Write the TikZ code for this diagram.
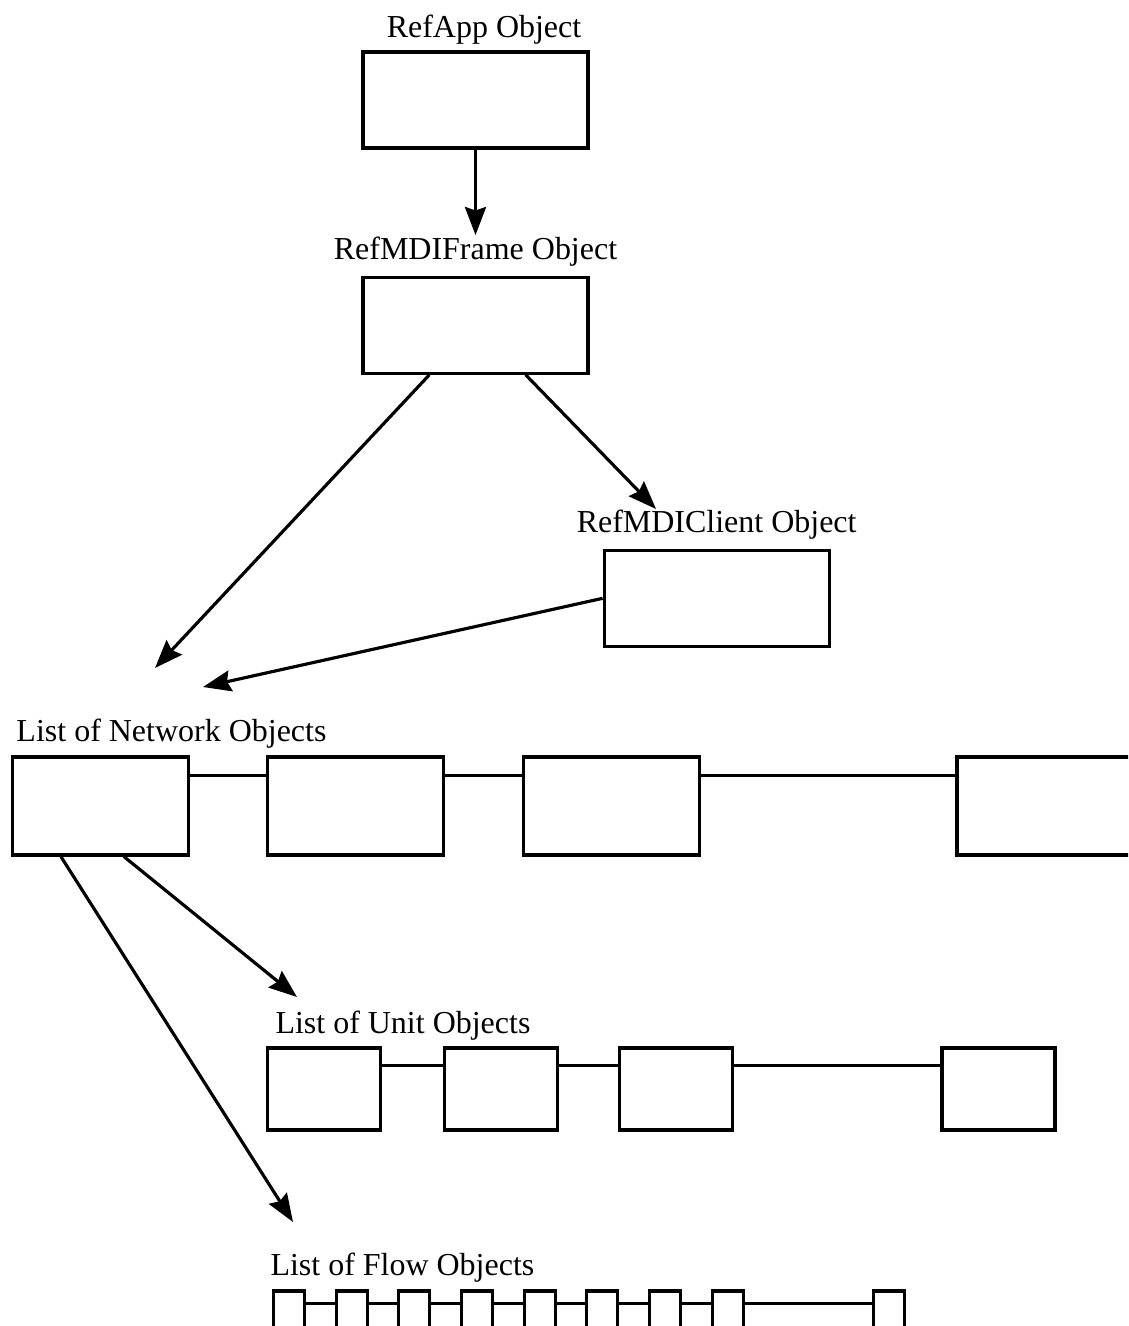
\documentclass[tikz,border=0pt]{standalone}
\usepackage{fontspec}
\setmainfont{Liberation Serif}
\usetikzlibrary{positioning,arrows.meta}
\begin{document}
\begin{tikzpicture}[
    line width=1.8pt,
    node distance=2cm,
    objbox/.style={rectangle,draw,minimum width=4.5cm,minimum height=1.92cm,inner sep=0pt},
    netbox/.style={rectangle,draw,minimum width=3.52cm,minimum height=1.96cm,inner sep=0pt},
    unitbox/.style={rectangle,draw,minimum width=2.26cm,minimum height=1.64cm,inner sep=0pt},
    flowbox/.style={rectangle,draw,minimum width=0.62cm,minimum height=0.8cm,inner sep=0pt},
    title/.style={inner sep=0pt,font=\fontsize{18.2pt}{22pt}\selectfont},
    link/.style={line width=1.5pt},
    arrow/.style={-{Stealth[length=16pt,width=12pt,inset=2pt]}}
]
    \useasboundingbox (0,0) rectangle (22.56,-26.52);
    \clip (0,0) rectangle (22.56,-26.52);

    % Application objects
    \node[objbox] (app) at (9.51,-2.0) {};
    \node[objbox] (frame) [below=2.52cm of app] {};
    \node[objbox] (client) [below right=3.48cm and 0.26cm of frame.south east] {};
    \node[title] (apptxt) [above=0.1cm of app, xshift=0.17cm] {RefApp Object};
    \node[title] (frametxt) [above=0.16cm of frame] {RefMDIFrame Object};
    \node[title] (clienttxt) [above=0.16cm of client] {RefMDIClient Object};

    % List of network objects
    \node[netbox] (net1) at (2.01,-16.12) {};
    \node[netbox] (net2) [right=1.52cm of net1] {};
    \node[netbox] (net3) [right=1.54cm of net2] {};
    \node[netbox] (net4) [right=5.08cm of net3] {};
    \node[title] (nettxt) [above right=0.12cm and 0.08cm of net1.north west] {List of Network Objects};

    % List of unit objects
    \node[unitbox] (unit1) at (6.48,-21.78) {};
    \node[unitbox] (unit2) [right=1.22cm of unit1] {};
    \node[unitbox] (unit3) [right=1.18cm of unit2] {};
    \node[unitbox] (unit4) [right=4.12cm of unit3] {};
    \node[title] (unittxt) [above right=0.1cm and 0.16cm of unit1.north west] {List of Unit Objects};

    % List of flow objects
    \node[flowbox] (flow1) at (5.78,-26.22) {};
    \foreach \i [count=\j from 2] in {1,...,7}
        \node[flowbox] (flow\j) [right=0.57cm of flow\i] {};
    \node[flowbox] (flow9) [right=2.54cm of flow8] {};
    \node[title] (flowtxt) [above right=0.12cm and -0.06cm of flow1.north west] {List of Flow Objects};

    % Links inside the lists
    \foreach \a/\b in {net1/net2,net2/net3,net3/net4}
        \draw[link] ([yshift=-0.4cm]\a.north east) -- ([yshift=-0.4cm]\b.north west);
    \foreach \a/\b in {unit1/unit2,unit2/unit3,unit3/unit4}
        \draw[link] ([yshift=-0.38cm]\a.north east) -- ([yshift=-0.38cm]\b.north west);
    \foreach \i [count=\j from 2] in {1,...,8}
        \draw[link] ([yshift=-0.28cm]flow\i.north east) -- ([yshift=-0.28cm]flow\j.north west);

    % Arrow ends
    \coordinate (netin1) at (3.1,-13.36);
    \coordinate (netin2) at (4.06,-13.74);
    \coordinate (clientin) at (13.12,-10.18);
    \coordinate (unitin) at (5.94,-19.94);
    \coordinate (flowin) at (5.86,-24.44);

    \draw[arrow] (app) -- (frametxt);
    \draw[arrow] ([xshift=1.36cm]frame.south west) -- (netin1);
    \draw[arrow] ([xshift=-1.28cm]frame.south east) -- (clientin);
    \draw[arrow] (client.west) -- (netin2);
    \draw[arrow] ([xshift=2.26cm]net1.south west) -- (unitin);
    \draw[arrow] ([xshift=1.0cm]net1.south west) -- (flowin);
\end{tikzpicture}
\end{document}
